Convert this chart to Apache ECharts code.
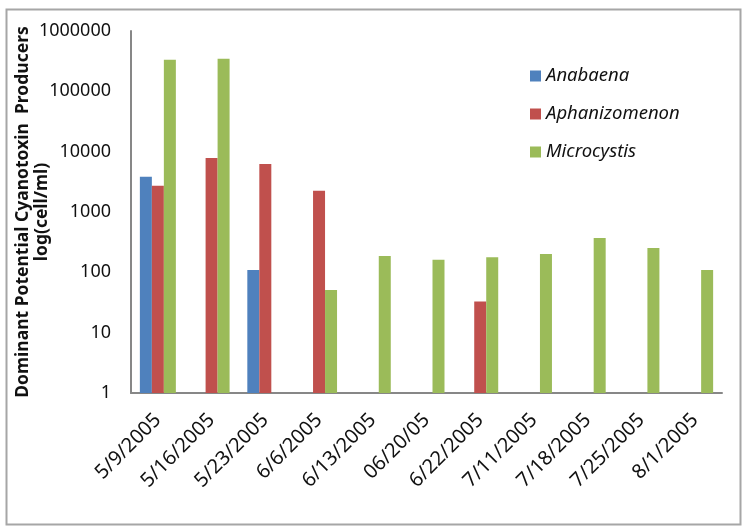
<!DOCTYPE html>
<html>
<head>
<meta charset="utf-8">
<script src="https://cdn.jsdelivr.net/npm/echarts@6/dist/echarts.min.js"></script>
<style>
html,body{margin:0;padding:0;background:#fff;}
#chart{width:742px;height:530px;}
</style>
</head>
<body>
<div id="chart"></div>
<script>
const categories = ['5/9/2005','5/16/2005','5/23/2005','6/6/2005','6/13/2005','06/20/05','6/22/2005','7/11/2005','7/18/2005','7/25/2005','8/1/2005'];
const anabaena = [3850, null, 109, null, null, null, null, null, null, null, null];
const aphanizomenon = [2730, 7860, 6250, 2250, null, null, 33, null, null, null, null];
const microcystis = [335000, 347000, null, 51, 187, 162, 177, 201, 371, 253, 109];
const yTicks = [1, 10, 100, 1000, 10000, 100000, 1000000];

const FONT = '"Noto Sans", sans-serif';
const chart = echarts.init(document.getElementById('chart'), null, {renderer: 'canvas'});
const mk = (name, data, color) => ({
  name, type: 'bar', data, barGap: '0%', barCategoryGap: '33%',
  itemStyle: {color}
});
chart.setOption({
  animation: false,
  backgroundColor: '#fff',
  textStyle: {fontFamily: FONT},
  graphic: [{
    type: 'rect', left: 4, top: 7,
    shape: {width: 734, height: 515},
    style: {fill: 'none', stroke: '#a6a6a6', lineWidth: 2},
    silent: true
  }],
  grid: {left: 131, right: 20, top: 31, bottom: 137, containLabel: false, outerBoundsMode: 'none'},
  legend: {
    orient: 'vertical', left: 525, top: 59,
    itemWidth: 11, itemHeight: 11, itemGap: 14, icon: 'rect',
    textStyle: {fontStyle: 'italic', fontSize: 18.5, color: '#111', fontFamily: FONT, lineHeight: 24},
    data: ['Anabaena', 'Aphanizomenon', 'Microcystis']
  },
  xAxis: {
    type: 'category', data: categories,
    axisLine: {lineStyle: {color: '#878787', width: 2}},
    axisTick: {show: false},
    axisLabel: {rotate: 45, fontSize: 20, color: '#111', margin: 24, interval: 0, fontFamily: FONT}
  },
  yAxis: {
    type: 'log', logBase: 10, min: 1, max: 1000000,
    name: 'Dominant Potential Cyanotoxin  Producers\nlog(cell/ml)',
    nameLocation: 'middle', nameGap: 79, nameRotate: 90, nameMoveOverlap: false,
    nameTextStyle: {fontWeight: 'bold', fontSize: 17.5, color: '#111', lineHeight: 19, fontFamily: FONT},
    axisLine: {show: true, lineStyle: {color: '#878787', width: 2}},
    axisTick: {show: false},
    splitLine: {show: false},
    axisLabel: {fontSize: 18, color: '#111', margin: 20, fontFamily: FONT,
      formatter: v => String(Math.round(v))}
  },
  series: [
    mk('Anabaena', anabaena, '#4F81BD'),
    mk('Aphanizomenon', aphanizomenon, '#C0504D'),
    mk('Microcystis', microcystis, '#9BBB59')
  ]
});
</script>
</body>
</html>
